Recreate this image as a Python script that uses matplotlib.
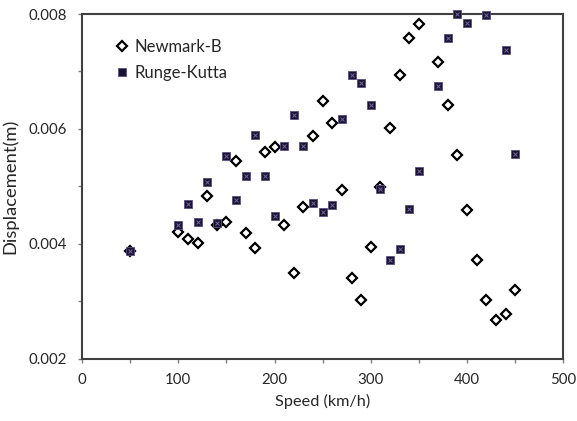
import matplotlib.pyplot as plt

plt.rcParams['font.family'] = ['Lato', 'DejaVu Sans']

# Vertical displacement vs. train speed for the two integration schemes
newmark_speed = [50, 100, 110, 120, 130, 140, 150, 160, 170, 180, 190, 200,
                 210, 220, 230, 240, 250, 260, 270, 280, 290, 300, 310, 320,
                 330, 340, 350, 370, 380, 390, 400, 410, 420, 430, 440, 450]
newmark_disp = [0.00388, 0.00420, 0.00408, 0.00401, 0.00484, 0.00432, 0.00438,
                0.00545, 0.00419, 0.00392, 0.00560, 0.00568, 0.00433, 0.00350,
                0.00464, 0.00587, 0.00648, 0.00611, 0.00494, 0.00341, 0.00303,
                0.00394, 0.00499, 0.00601, 0.00693, 0.00758, 0.00783, 0.00717,
                0.00642, 0.00554, 0.00459, 0.00372, 0.00303, 0.00268, 0.00278,
                0.00319]

rk_speed = [50, 100, 110, 120, 130, 140, 150, 160, 170, 180, 190, 200,
            210, 220, 230, 240, 250, 260, 270, 280, 290, 300, 310, 320,
            330, 340, 350, 370, 380, 390, 400, 420, 440, 450]
rk_disp = [0.00388, 0.00433, 0.00470, 0.00438, 0.00508, 0.00437, 0.00552,
           0.00477, 0.00518, 0.00590, 0.00518, 0.00448, 0.00570, 0.00624,
           0.00570, 0.00471, 0.00455, 0.00467, 0.00617, 0.00693, 0.00680,
           0.00642, 0.00495, 0.00371, 0.00391, 0.00460, 0.00527, 0.00675,
           0.00759, 0.00800, 0.00784, 0.00798, 0.00737, 0.00557]

x_ticks = [0, 100, 200, 300, 400, 500]
y_ticks = [0.002, 0.004, 0.006, 0.008]
y_labels = ['0.002', '0.004', '0.006', '0.008']

text_col = '#262626'
axis_col = '#404040'

fig = plt.figure(figsize=(5.77, 4.21), dpi=100)
ax = fig.add_axes([0.1421, 0.148, 0.8342, 0.8187])

ax.plot(newmark_speed, newmark_disp, ls='none', marker='D', ms=4.6,
        mfc='white', mec='black', mew=1.6, clip_on=False, zorder=3,
        label='Newmark-B')
ax.plot(rk_speed, rk_disp, ls='none', marker='s', ms=5.6,
        mfc='#1a1430', mec='#5a4f84', mew=0.6, clip_on=False, zorder=4,
        label='Runge-Kutta')
# little cross drawn inside each square
ax.plot(rk_speed, rk_disp, ls='none', marker='x', ms=3.3,
        mec='#7467a0', mew=0.7, clip_on=False, zorder=5)

ax.set_xlim(0, 500)
ax.set_ylim(0.002, 0.008)
ax.set_xticks(x_ticks)
ax.set_xticks(range(0, 501, 50), minor=True)
ax.set_yticks(y_ticks)
ax.set_yticklabels(y_labels)
ax.set_yticks([0.002 + 0.001 * i for i in range(7)], minor=True)

for sp in ax.spines.values():
    sp.set_color(axis_col)
    sp.set_linewidth(1.5)

ax.tick_params(which='both', direction='out', length=3, width=1,
               color='#808080', labelsize=10.8, labelcolor=text_col)
ax.tick_params(axis='y', pad=8)
ax.tick_params(axis='x', pad=7)

ax.set_xlabel('Speed (km/h)', fontsize=11.7, color=text_col, labelpad=5)
ax.set_ylabel('Displacement(m)', fontsize=13.2, color=text_col, labelpad=7)

leg = ax.legend(loc='upper left', bbox_to_anchor=(0.048, 0.952),
                frameon=False, numpoints=1, handlelength=1.0,
                handletextpad=0.25, labelspacing=0.6, borderpad=0,
                fontsize=12)
for t in leg.get_texts():
    t.set_color(text_col)

fig.savefig('out.png', dpi=100)
